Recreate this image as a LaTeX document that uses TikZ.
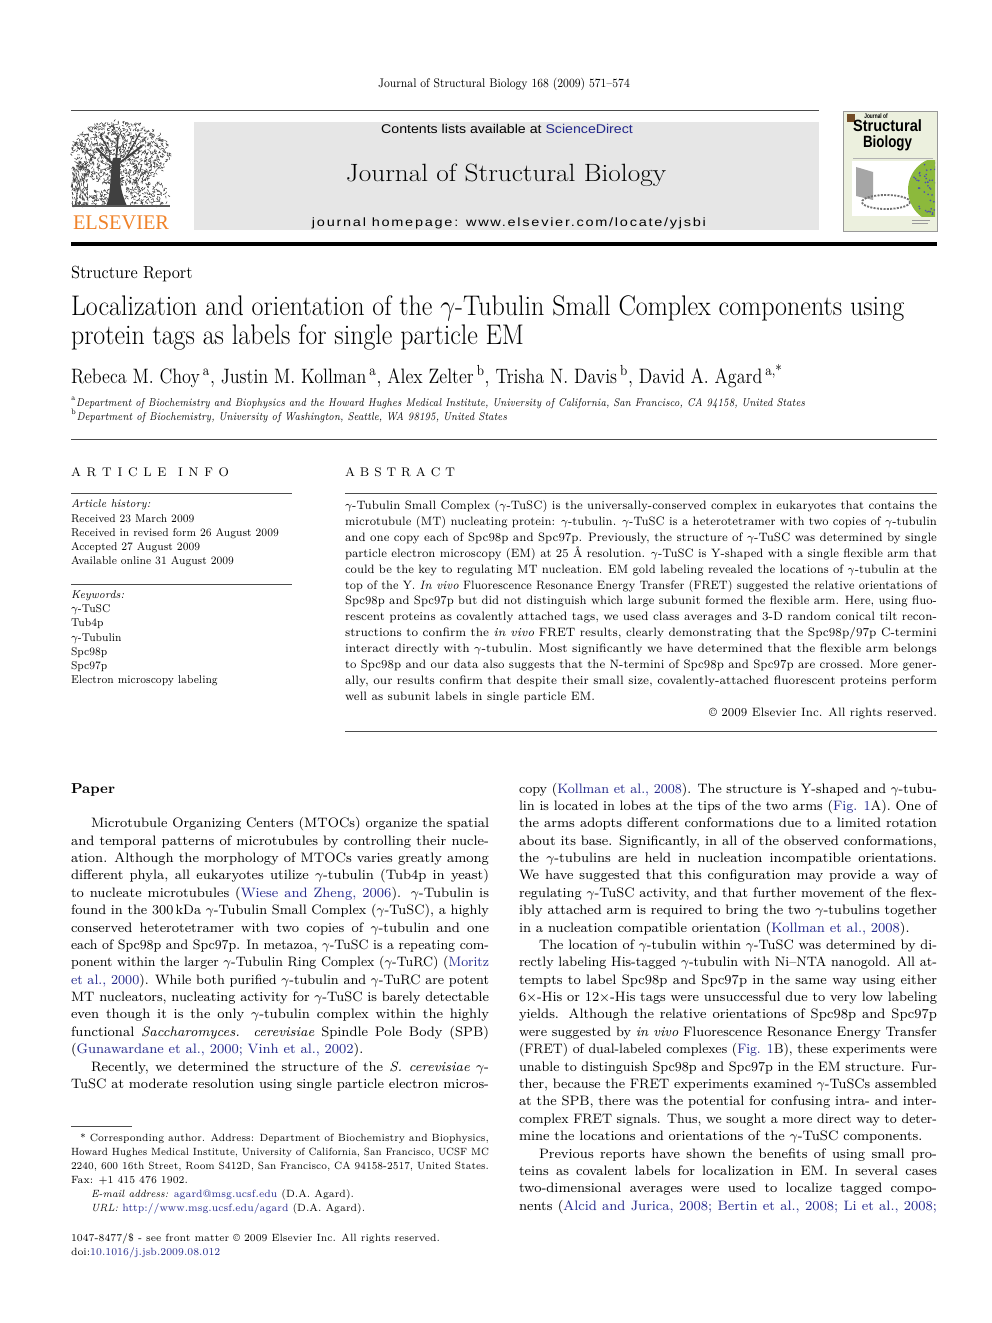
\documentclass[tikz,border=0pt]{standalone}
\usepackage{fontspec}
\usepackage{graphicx}
\usepackage{xcolor}
\newfontfamily\sansf{Liberation Sans}
\newfontfamily\sansls[LetterSpace=12]{Liberation Sans}
\newfontfamily\timesf{Liberation Serif}
\definecolor{linkblue}{RGB}{35,40,140}
\definecolor{elsorange}{RGB}{240,130,40}
\definecolor{boxgray}{RGB}{230,230,230}
\definecolor{coverbg}{RGB}{236,240,222}
\definecolor{spheregreen}{RGB}{140,185,60}
\newsavebox\fitbox
\newcommand\jfit[2]{\sbox\fitbox{#2}\ifdim\wd\fitbox>#1\relax\resizebox{#1}{\height}{#2}\else\makebox[#1][s]{#2}\fi}
\newcommand\sq[2]{\scalebox{#1}[1]{#2}}
\newcommand\mg{\ensuremath{\gamma}}
\newcommand\lk[1]{\textcolor{linkblue}{#1}}
\newcommand\bodyfont{\fontsize{8.2}{10}\selectfont}
\newcommand\absfont{\fontsize{7.3}{9}\selectfont}
\newcommand\infofont{\fontsize{6.8}{9}\selectfont}
\newcommand\footfont{\fontsize{6.3}{8}\selectfont}
\tikzset{
  every node/.style={inner sep=0pt, outer sep=0pt},
  bl/.style={anchor=base west},
  br/.style={anchor=base east},
  bc/.style={anchor=base},
  body/.style={bl, font=\bodyfont},
  abs/.style={bl, font=\absfont},
  info/.style={bl, font=\infofont},
  foot/.style={bl, font=\footfont},
  rulethin/.style={line width=0.6pt, draw=black!70},
  treestroke/.style={line width=0.35pt, draw=black!75},
}
\begin{document}
\begin{tikzpicture}[x=0.6pt, y=-0.6pt]
\useasboundingbox (0,0) rectangle (992,1323);
\fill[white] (0,0) rectangle (992,1323);

% ---------- header ----------
\node[bc] (cite) at (504,88) {\resizebox{151pt}{\height}{\fontsize{7.5}{9}\selectfont Journal of Structural Biology 168 (2009) 571--574}};
\draw[rulethin] (71,111) -- (819,111);
\fill[boxgray] (194,122) rectangle (819,230);
\node[bc] (cla) at (507,134) {\resizebox{151pt}{\height}{\sansf\fontsize{7.6}{9}\selectfont Contents lists available at \textcolor{linkblue}{ScienceDirect}}};
\node[bc] (jname) at (506,182) {\resizebox{192pt}{\height}{\fontsize{15}{18}\selectfont Journal of Structural Biology}};
\node[bc] (jhome) at (509,226) {\resizebox{236.4pt}{\height}{\sansls\fontsize{7.2}{9}\selectfont journal homepage: www.elsevier.com/locate/yjsbi}};

% Elsevier tree
\begin{scope}
  \pgfmathsetseed{7}
  \foreach \i in {1,...,1000}{
    \pgfmathsetmacro\ang{rnd*360}
    \pgfmathsetmacro\rr{sqrt(rnd)}
    \pgfmathsetmacro\px{121+49*\rr*cos(\ang)}
    \pgfmathsetmacro\py{153+32*\rr*sin(\ang)}
    \pgfmathsetmacro\dd{rnd*360}
    \draw[treestroke] (\px,\py) -- ++(\dd:2.4);
  }
  \foreach \i in {1,...,160}{
    \pgfmathsetmacro\px{72+16*rnd}
    \pgfmathsetmacro\py{165+40*rnd}
    \pgfmathsetmacro\dd{60+60*rnd}
    \draw[treestroke] (\px,\py) -- ++(\dd:3);
  }
  \foreach \i in {1,...,140}{
    \pgfmathsetmacro\px{126+42*rnd}
    \pgfmathsetmacro\py{182+23*rnd}
    \pgfmathsetmacro\dd{rnd*360}
    \draw[treestroke] (\px,\py) -- ++(\dd:2.4);
  }
  \foreach \i in {1,...,60}{
    \pgfmathsetmacro\px{90+18*rnd}
    \pgfmathsetmacro\py{190+15*rnd}
    \pgfmathsetmacro\dd{rnd*360}
    \draw[treestroke] (\px,\py) -- ++(\dd:2.4);
  }
\end{scope}
\fill[black!75] (106,206) .. controls (112,192) and (109,176) .. (113,158) -- (121,158) .. controls (118,178) and (121,193) .. (127,206) -- cycle;
\draw[black!75, line width=1.2pt] (115,166) -- (96,148);
\draw[black!75, line width=1.2pt] (118,164) -- (142,146);
\draw[black!75, line width=1pt] (116,162) -- (118,136);
\draw[black!75, line width=0.8pt] (110,152) -- (100,135);
\draw[black!75, line width=0.8pt] (127,156) -- (140,133);
\draw[black!65, line width=0.7pt] (72,206) -- (170,206);
\node[bc] (els) at (121,229) {\resizebox{57.6pt}{\height}{\timesf\fontsize{12.5}{14}\selectfont\color{elsorange}ELSEVIER}};

% Journal cover
\draw[black!40, fill=coverbg, line width=0.5pt] (843,111) rectangle (937,231);
\fill[brown!60!black] (847,114) rectangle (855,122);
\node[bc] (cvj) at (876,118.5) {\resizebox{14pt}{\height}{\sansf\bfseries\fontsize{4}{5}\selectfont Journal of}};
\node[bc] (cvs) at (887.5,132) {\resizebox{41.4pt}{\height}{\sansf\bfseries\fontsize{9.8}{12}\selectfont Structural}};
\node[bc] (cvb) at (887.5,147.5) {\resizebox{29.4pt}{\height}{\sansf\bfseries\fontsize{9.8}{12}\selectfont Biology}};
\draw[black!30, line width=0.3pt] (853,158) -- (933,158);
\fill[white] (852,161) rectangle (935,216);
\fill[black!35] (856,167) -- (873,172) -- (873,200) -- (856,196) -- cycle;
\draw[black!55, line width=1.1pt, dash pattern=on 1.2pt off 0.8pt] (886,202) ellipse (24 and 7);
\begin{scope}
  \clip (852,161) rectangle (935,216);
  \fill[spheregreen] (941,190) circle (33);
  \pgfmathsetseed{11}
  \foreach \i in {1,...,110}{
    \pgfmathsetmacro\ang{rnd*360}
    \pgfmathsetmacro\rr{31*sqrt(rnd)}
    \fill[blue!60!black!70] ({941+\rr*cos(\ang)},{190+\rr*sin(\ang)}) circle (0.9);
  }
\end{scope}
\draw[black!40, line width=0.5pt] (912,220) -- (930,220);
\draw[black!40, line width=0.5pt] (912,223.5) -- (928,223.5);

\fill[black] (71,241.8) rectangle (937,246.2);

% ---------- title block ----------
\node[bl] (sr) at (71,278) {\resizebox{73pt}{\height}{\fontsize{10.5}{12}\selectfont Structure Report}};
\node[bl] (ti1) at (71,315) {\resizebox{500pt}{\height}{\fontsize{17}{20}\selectfont Localization and orientation of the \mg-Tubulin Small Complex components using}};
\node[bl] (ti2) at (71,344) {\resizebox{271.8pt}{\height}{\fontsize{17}{20}\selectfont protein tags as labels for single particle EM}};
\node[bl] (au) at (71,383) {\resizebox{427pt}{\height}{\fontsize{12.5}{14}\selectfont Rebeca M. Choy\,\textsuperscript{a}, Justin M. Kollman\,\textsuperscript{a}, Alex Zelter\,\textsuperscript{b}, Trisha N. Davis\,\textsuperscript{b}, David A. Agard\,\textsuperscript{a,*}}};
\node[bl] (afa) at (71,406) {\resizebox{440.4pt}{\height}{\fontsize{6.8}{8}\selectfont \textsuperscript{a}\textit{Department of Biochemistry and Biophysics and the Howard Hughes Medical Institute, University of California, San Francisco, CA 94158, United States}}};
\node[bl] (afb) at (71,420) {\resizebox{261.6pt}{\height}{\fontsize{6.8}{8}\selectfont \textsuperscript{b}\textit{Department of Biochemistry, University of Washington, Seattle, WA 98195, United States}}};
\draw[rulethin] (71,439) -- (937,439);

% ---------- article info ----------
\node[bl, font=\fontsize{7.5}{9}\selectfont] (aih) at (71,476) {\makebox[94.8pt][s]{A R T I C L E\ \ I N F O}};
\draw[rulethin] (71,493) -- (292,493);
\node[info] (ah) at (71,507.7) {\sq{0.9}{\textit{Article history:}}};
\node[info] (ah1) at (71,522.0) {\sq{0.9}{Received 23 March 2009}};
\node[info] (ah2) at (71,536.3) {\sq{0.9}{Received in revised form 26 August 2009}};
\node[info] (ah3) at (71,550.6) {\sq{0.9}{Accepted 27 August 2009}};
\node[info] (ah4) at (71,564.9) {\sq{0.9}{Available online 31 August 2009}};
\draw[rulethin] (71,584) -- (292,584);
\node[info] (kw) at (71,598.7) {\sq{0.9}{\textit{Keywords:}}};
\node[info] (kw1) at (71,612.8) {\sq{0.9}{\mg-TuSC}};
\node[info] (kw2) at (71,626.9) {\sq{0.9}{Tub4p}};
\node[info] (kw3) at (71,641.0) {\sq{0.9}{\mg-Tubulin}};
\node[info] (kw4) at (71,655.1) {\sq{0.9}{Spc98p}};
\node[info] (kw5) at (71,669.2) {\sq{0.9}{Spc97p}};
\node[info] (kw6) at (71,683.3) {\sq{0.9}{Electron microscopy labeling}};

% ---------- abstract ----------
\node[bl, font=\fontsize{7.5}{9}\selectfont] (abh) at (345,476) {\makebox[66pt][s]{A B S T R A C T}};
\draw[rulethin] (345,493) -- (937,493);
\node[abs] (a0) at (345,509.8) {\jfit{355.2pt}{\mg-Tubulin Small Complex (\mg-TuSC) is the universally-conserved complex in eukaryotes that contains the}};
\node[abs] (a1) at (345,525.7) {\jfit{355.2pt}{microtubule (MT) nucleating protein: \mg-tubulin. \mg-TuSC is a heterotetramer with two copies of \mg-tubulin}};
\node[abs] (a2) at (345,541.5) {\jfit{355.2pt}{and one copy each of Spc98p and Spc97p. Previously, the structure of \mg-TuSC was determined by single}};
\node[abs] (a3) at (345,557.4) {\jfit{355.2pt}{particle electron microscopy (EM) at 25 Å resolution. \mg-TuSC is Y-shaped with a single flexible arm that}};
\node[abs] (a4) at (345,573.2) {\jfit{355.2pt}{could be the key to regulating MT nucleation. EM gold labeling revealed the locations of \mg-tubulin at the}};
\node[abs] (a5) at (345,589.1) {\jfit{355.2pt}{top of the Y. \textit{In vivo} Fluorescence Resonance Energy Transfer (FRET) suggested the relative orientations of}};
\node[abs] (a6) at (345,604.9) {\jfit{355.2pt}{Spc98p and Spc97p but did not distinguish which large subunit formed the flexible arm. Here, using fluo-}};
\node[abs] (a7) at (345,620.8) {\jfit{355.2pt}{rescent proteins as covalently attached tags, we used class averages and 3-D random conical tilt recon-}};
\node[abs] (a8) at (345,636.6) {\jfit{355.2pt}{structions to confirm the \textit{in vivo} FRET results, clearly demonstrating that the Spc98p/97p C-termini}};
\node[abs] (a9) at (345,652.5) {\jfit{355.2pt}{interact directly with \mg-tubulin. Most significantly we have determined that the flexible arm belongs}};
\node[abs] (a10) at (345,668.3) {\jfit{355.2pt}{to Spc98p and our data also suggests that the N-termini of Spc98p and Spc97p are crossed. More gener-}};
\node[abs] (a11) at (345,684.2) {\jfit{355.2pt}{ally, our results confirm that despite their small size, covalently-attached fluorescent proteins perform}};
\node[abs] (a12) at (345,700.0) {\sq{0.94}{well as subunit labels in single particle EM.}};
\node[br, font=\absfont] (acr) at (937,716) {\sq{0.94}{\textcopyright\ 2009 Elsevier Inc. All rights reserved.}};
\draw[rulethin] (345,731) -- (937,731);

% ---------- left column ----------
\node[bl, font=\fontsize{8.6}{10}\selectfont\bfseries] (paper) at (71,793.0) {Paper};
\node[body] (p0) at (91,827.8) {\jfit{238.8pt}{Microtubule Organizing Centers (MTOCs) organize the spatial}};
\node[body] (p1) at (71,845.1) {\jfit{250.8pt}{and temporal patterns of microtubules by controlling their nucle-}};
\node[body] (p2) at (71,862.5) {\jfit{250.8pt}{ation. Although the morphology of MTOCs varies greatly among}};
\node[body] (p3) at (71,879.9) {\jfit{250.8pt}{different phyla, all eukaryotes utilize \mg-tubulin (Tub4p in yeast)}};
\node[body] (p4) at (71,897.3) {\jfit{250.8pt}{to nucleate microtubules (\lk{Wiese and Zheng, 2006}). \mg-Tubulin is}};
\node[body] (p5) at (71,914.7) {\jfit{250.8pt}{found in the 300\,kDa \mg-Tubulin Small Complex (\mg-TuSC), a highly}};
\node[body] (p6) at (71,932.0) {\jfit{250.8pt}{conserved heterotetramer with two copies of \mg-tubulin and one}};
\node[body] (p7) at (71,949.4) {\jfit{250.8pt}{each of Spc98p and Spc97p. In metazoa, \mg-TuSC is a repeating com-}};
\node[body] (p8) at (71,966.8) {\jfit{250.8pt}{ponent within the larger \mg-Tubulin Ring Complex (\mg-TuRC) (\lk{Moritz}}};
\node[body] (p9) at (71,984.2) {\jfit{250.8pt}{\lk{et al., 2000}). While both purified \mg-tubulin and \mg-TuRC are potent}};
\node[body] (p10) at (71,1001.6) {\jfit{250.8pt}{MT nucleators, nucleating activity for \mg-TuSC is barely detectable}};
\node[body] (p11) at (71,1018.9) {\jfit{250.8pt}{even though it is the only \mg-tubulin complex within the highly}};
\node[body] (p12) at (71,1036.3) {\jfit{250.8pt}{functional \textit{Saccharomyces. cerevisiae} Spindle Pole Body (SPB)}};
\node[body] (p13) at (71,1053.7) {(\lk{Gunawardane et al., 2000; Vinh et al., 2002}).};
\node[body] (p14) at (91,1071.1) {\jfit{238.8pt}{Recently, we determined the structure of the \textit{S. cerevisiae} \mg-}};
\node[body] (p15) at (71,1088.5) {\jfit{250.8pt}{TuSC at moderate resolution using single particle electron micros-}};

% ---------- right column ----------
\node[body] (q0) at (519,793.0) {\jfit{250.8pt}{copy (\lk{Kollman et al., 2008}). The structure is Y-shaped and \mg-tubu-}};
\node[body] (q1) at (519,810.4) {\jfit{250.8pt}{lin is located in lobes at the tips of the two arms (\lk{Fig. 1}A). One of}};
\node[body] (q2) at (519,827.8) {\jfit{250.8pt}{the arms adopts different conformations due to a limited rotation}};
\node[body] (q3) at (519,845.1) {\jfit{250.8pt}{about its base. Significantly, in all of the observed conformations,}};
\node[body] (q4) at (519,862.5) {\jfit{250.8pt}{the \mg-tubulins are held in nucleation incompatible orientations.}};
\node[body] (q5) at (519,879.9) {\jfit{250.8pt}{We have suggested that this configuration may provide a way of}};
\node[body] (q6) at (519,897.3) {\jfit{250.8pt}{regulating \mg-TuSC activity, and that further movement of the flex-}};
\node[body] (q7) at (519,914.7) {\jfit{250.8pt}{ibly attached arm is required to bring the two \mg-tubulins together}};
\node[body] (q8) at (519,932.0) {in a nucleation compatible orientation (\lk{Kollman et al., 2008}).};
\node[body] (q9) at (539,949.4) {\jfit{238.8pt}{The location of \mg-tubulin within \mg-TuSC was determined by di-}};
\node[body] (q10) at (519,966.8) {\jfit{250.8pt}{rectly labeling His-tagged \mg-tubulin with Ni--NTA nanogold. All at-}};
\node[body] (q11) at (519,984.2) {\jfit{250.8pt}{tempts to label Spc98p and Spc97p in the same way using either}};
\node[body] (q12) at (519,1001.6) {\jfit{250.8pt}{6$\times$-His or 12$\times$-His tags were unsuccessful due to very low labeling}};
\node[body] (q13) at (519,1018.9) {\jfit{250.8pt}{yields. Although the relative orientations of Spc98p and Spc97p}};
\node[body] (q14) at (519,1036.3) {\jfit{250.8pt}{were suggested by \textit{in vivo} Fluorescence Resonance Energy Transfer}};
\node[body] (q15) at (519,1053.7) {\jfit{250.8pt}{(FRET) of dual-labeled complexes (\lk{Fig. 1}B), these experiments were}};
\node[body] (q16) at (519,1071.1) {\jfit{250.8pt}{unable to distinguish Spc98p and Spc97p in the EM structure. Fur-}};
\node[body] (q17) at (519,1088.5) {\jfit{250.8pt}{ther, because the FRET experiments examined \mg-TuSCs assembled}};
\node[body] (q18) at (519,1105.8) {\jfit{250.8pt}{at the SPB, there was the potential for confusing intra- and inter-}};
\node[body] (q19) at (519,1123.2) {\jfit{250.8pt}{complex FRET signals. Thus, we sought a more direct way to deter-}};
\node[body] (q20) at (519,1140.6) {mine the locations and orientations of the \mg-TuSC components.};
\node[body] (q21) at (539,1158.0) {\jfit{238.8pt}{Previous reports have shown the benefits of using small pro-}};
\node[body] (q22) at (519,1175.4) {\jfit{250.8pt}{teins as covalent labels for localization in EM. In several cases}};
\node[body] (q23) at (519,1192.7) {\jfit{250.8pt}{two-dimensional averages were used to localize tagged compo-}};
\node[body] (q24) at (519,1210.1) {\jfit{250.8pt}{nents (\lk{Alcid and Jurica, 2008; Bertin et al., 2008; Li et al., 2008;}}};

% ---------- footnotes ----------
\draw[rulethin] (71,1126) -- (132,1126);
\node[foot] (f0) at (80,1141.2) {\jfit{245.4pt}{* Corresponding author. Address: Department of Biochemistry and Biophysics,}};
\node[foot] (f1) at (71,1155.2) {\jfit{250.8pt}{Howard Hughes Medical Institute, University of California, San Francisco, UCSF MC}};
\node[foot] (f2) at (71,1169.2) {\jfit{250.8pt}{2240, 600 16th Street, Room S412D, San Francisco, CA 94158-2517, United States.}};
\node[foot] (f3) at (71,1183.2) {\sq{0.92}{Fax: +1 415 476 1902.}};
\node[foot] (f4) at (91,1197.2) {\sq{0.92}{\textit{E-mail address:} \lk{agard@msg.ucsf.edu} (D.A. Agard).}};
\node[foot] (f5) at (91,1211.2) {\sq{0.92}{\textit{URL:} \lk{http://www.msg.ucsf.edu/agard} (D.A. Agard).}};
\node[foot] (f6) at (71,1241.5) {\sq{0.92}{1047-8477/\$ - see front matter \textcopyright\ 2009 Elsevier Inc. All rights reserved.}};
\node[foot] (f7) at (71,1255.5) {\sq{0.92}{doi:\lk{10.1016/j.jsb.2009.08.012}}};
\end{tikzpicture}
\end{document}
